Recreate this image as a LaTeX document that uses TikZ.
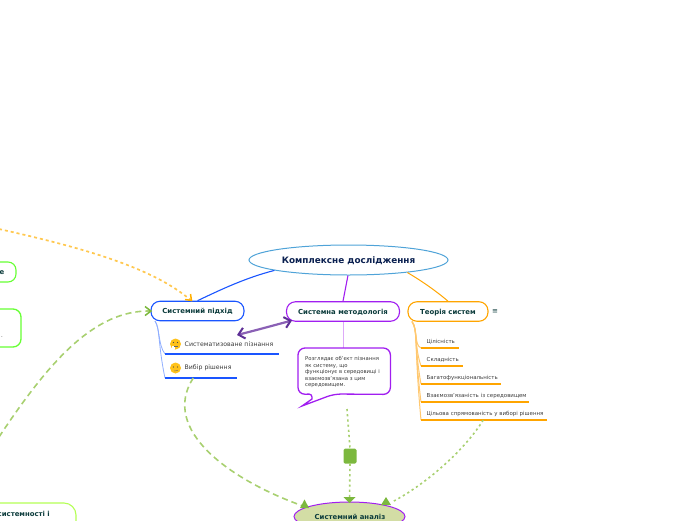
\documentclass[tikz,border=0pt]{standalone}
\usepackage{fontspec}
\setmainfont{DejaVu Sans}
\usetikzlibrary{arrows.meta,shapes.geometric}
\definecolor{txtdark}{HTML}{0B3B3B}
\definecolor{navy}{HTML}{0A2050}
\definecolor{greytxt}{HTML}{3A3A3A}
\definecolor{blueb}{HTML}{1A55FF}
\definecolor{bluel}{HTML}{8FAEFF}
\definecolor{purp}{HTML}{A11EF0}
\definecolor{purpl}{HTML}{DDAAF8}
\definecolor{orng}{HTML}{FFA500}
\definecolor{orngl}{HTML}{FFC870}
\definecolor{ellb}{HTML}{4FA3D8}
\definecolor{linegrn}{HTML}{A8D070}
\definecolor{tipgrn}{HTML}{7CB83E}
\definecolor{relp}{HTML}{8A60B5}
\definecolor{relpd}{HTML}{5E2F96}
\definecolor{limeb}{HTML}{66FF33}
\definecolor{limel}{HTML}{B4FF55}
\definecolor{anafill}{HTML}{D3DDA5}
\definecolor{orarrow}{HTML}{FFC850}
\definecolor{emo}{HTML}{FFC21A}
\tikzset{
  topicbox/.style={draw=#1,line width=1.1pt,rounded corners=9pt,fill=white,text=txtdark,
    font=\bfseries\fontsize{6.9}{8}\selectfont,inner sep=0pt,minimum height=19.5pt,text height=5pt,text depth=0pt},
  sideleaf/.style={anchor=south west,inner sep=0pt,align=left,text width=#1pt,minimum height=20pt,
    text=greytxt,font=\fontsize{6.2}{8}\selectfont},
  smallleaf/.style={anchor=south west,inner sep=0pt,align=left,text width=#1pt,minimum height=12pt,
    text=greytxt,font=\fontsize{5.45}{7}\selectfont},
  underblue/.style={color=blueb,line width=1.2pt},
  underorange/.style={color=orng,line width=1.2pt},
  branchblue/.style={color=bluel,line width=.8pt},
  branchorange/.style={color=orngl,line width=1pt},
  gdash/.style={color=linegrn,line width=1.6pt,dash pattern=on 6pt off 4pt},
  gdot/.style={color=linegrn,line width=1.6pt,dash pattern=on 2.2pt off 3pt},
  gtip/.style={fill=tipgrn,draw=none},
  emoji/.style={circle,fill=emo,draw=none,minimum size=11pt,inner sep=0pt}
}
\begin{document}
\begin{tikzpicture}[x=1pt,y=-1pt]
\useasboundingbox (0,0) rectangle (696,520);
\clip (0,0) rectangle (696,520);

% nodes
\node[ellipse,draw=ellb,line width=1pt,fill=white,minimum width=199pt,minimum height=30pt,inner sep=0pt,
  text=navy,text height=6pt,text depth=0pt,font=\bfseries\fontsize{8.85}{10}\selectfont] (root) at (348.5,260) {Комплексне дослідження};
\node[topicbox=blueb,minimum width=93pt] (sp) at (197.5,311) {Системний підхід};
\node[topicbox=purp,minimum width=113pt] (sm) at (343,311.5) {Системна методологія};
\node[topicbox=orng,minimum width=80pt] (ts) at (448,311.5) {Теорія систем};
\node[anchor=west,inner sep=0pt,text=txtdark,font=\fontsize{7}{8}\selectfont] (tsmark) at (492,311.5) {≡};

\node[ellipse,draw=purp,line width=1pt,fill=anafill,minimum width=111pt,minimum height=29pt,inner sep=0pt] (ana) at (349.5,516.5) {};
\node[text=txtdark,text height=5pt,text depth=0pt,font=\bfseries\fontsize{6.9}{8}\selectfont,inner sep=0pt] (analab) at (350,516.5) {Системний аналіз};

% off-canvas topics
\node[draw=limeb,line width=1.1pt,fill=white,rounded corners=8pt,minimum width=60pt,minimum height=20pt,inner sep=0pt] (la) at (-14,272) {};
\node[anchor=east,inner sep=0pt,text=txtdark,font=\bfseries\fontsize{6.9}{8}\selectfont] (lat) at (4.5,272.5) {е};
\node[draw=limeb,line width=1.3pt,fill=white,rounded corners=8pt,minimum width=60pt,minimum height=38pt,inner sep=0pt] (lb) at (-9,328) {};
\node[anchor=east,inner sep=0pt,text=greytxt,font=\fontsize{5.45}{7}\selectfont] (lbt) at (3,337) {.};
\node[draw=limel,line width=1.1pt,fill=white,rounded corners=12pt,minimum width=120pt,minimum height=40pt,inner sep=0pt] (lc) at (16,523) {};
\node[anchor=east,inner sep=0pt,text=txtdark,font=\bfseries\fontsize{6.9}{8}\selectfont] (lct) at (50,513.5) {системності і};

% blue leaves
\node[sideleaf=114] (la1) at (165,354) {\hspace*{19.5pt}Систематизоване пізнання};
\node[sideleaf=72] (la2) at (165,378) {\hspace*{19.5pt}Вибір рішення};
\node[emoji] (em1) at (175.5,344) {};
\node[emoji] (em2) at (175.5,368) {};
\fill[white] (172,346) rectangle (175,349);
\fill[black!70] (173.5,342.5) circle (.6pt) (177.5,342.5) circle (.6pt);
\draw[black!60,line width=.4pt] (174,346) -- (178,346);
\fill[black!70] (173.5,367) circle (.6pt) (177.5,367) circle (.6pt);
\draw[black!60,line width=.4pt] (174,371) -- (178,370.5);

% orange leaves
\node[smallleaf=38] (o1) at (421,348) {\hspace*{5.5pt}Цілісність};
\node[smallleaf=42] (o2) at (421,366) {\hspace*{5.5pt}Складність};
\node[smallleaf=80] (o3) at (421,384) {\hspace*{5.5pt}Багатофункціональність};
\node[smallleaf=108] (o4) at (421,402) {\hspace*{5.5pt}Взаємозв’язаність із середовищем};
\node[smallleaf=126] (o5) at (421,420) {\hspace*{5.5pt}Цільова спрямованість у виборі рішення};

% branches
\coordinate (spb) at (155,321);
\coordinate (tsb) at (412,321.5);
\foreach \n in {la1,la2}{
  \draw[branchblue] (spb) .. controls (160,328) and (158,345) .. (\n.south west);
  \draw[underblue] (\n.south west) -- (\n.south east);
}
\foreach \n in {o1,o2,o3,o4,o5}{
  \draw[branchorange] (tsb) .. controls (418,330) and (414,345) .. (\n.south west);
  \draw[underorange] (\n.south west) -- (\n.south east);
}

% root connectors
\draw[blueb,line width=1.1pt] (root.188.8) .. controls (245,278) and (220,290) .. (sp.north);
\draw[purp,line width=1.1pt] (root.-92) -- (sm.north);
\draw[orng,line width=1pt] (root.-12.5) .. controls (420,280) and (435,290) .. (ts.north);

% callout
\node[anchor=north west,inner sep=0pt,minimum width=92pt,minimum height=46pt] (note) at (298,348) {};
\draw[purpl,line width=1pt] (sm.south) -- (note.north -| sm.south);
\draw[purp,line width=1.3pt,fill=white,rounded corners=7pt]
  (note.north west) -- (note.north east) -- (note.south east) -- (334,394) [sharp corners] -- (302,406) -- (312,399) [rounded corners=3pt] -- (312,394) [rounded corners=7pt] -- (note.south west) -- cycle;
\node[anchor=north west,inner sep=0pt,align=left,text=greytxt,font=\fontsize{5.3}{6.5}\selectfont] (notetext) at (305,356.5)
  {Розглядає об’єкт пізнання\\як систему, що\\функціонує в середовищі і\\взаємозв’язана з цим\\середовищем.};

% relationships
\coordinate (relA) at (237,335);
\coordinate (relB) at (292,320.5);
\draw[relp,line width=2.2pt,{Straight Barb[color=relpd,length=6pt,width=11pt,line width=2pt]}-{Straight Barb[color=relpd,length=6pt,width=11pt,line width=2pt]}]
  (relA) .. controls (255,330.5) and (275,325) .. (relB);

\coordinate (or0) at (-1,229);
\coordinate (orE) at (190.5,300);
\draw[orarrow,line width=1.7pt,dash pattern=on 3pt off 3pt] (or0) .. controls (70,245) and (150,265) .. (orE);
\draw[orng!90!yellow,line width=1.5pt] (185,299.5) -- (191.5,300.5) -- (190.5,294);

\coordinate (gl0) at (-1,437);
\draw[gdash] (gl0) .. controls (50,360) and (95,310) .. (sp.west);
\draw[tipgrn,line width=1.5pt] (145,306.5) -- (151,311) -- (145,315.5);

\draw[gdash] (la2.south) ++(-8,0) .. controls (160,430) and (230,480) .. (303,506);
\fill[gtip] (300,508) -- (304.5,499.5) -- (309,508) -- cycle;

\coordinate (noteB) at (347,409);
\node[fill=tipgrn,rounded corners=1.5pt,minimum width=13pt,minimum height=15pt,inner sep=0pt] (gb) at (350,456) {};
\draw[gdot] (noteB) -- (gb.north);
\draw[gdot] (gb.south) -- (ana.north);
\fill[gtip] (343.5,497) -- (355.5,497) -- (349.5,503) -- cycle;

\draw[gdot] (o5.south) ++(-1,0) .. controls (465,450) and (425,485) .. (392,502);
\fill[gtip] (381,505) -- (386,497) -- (391,505) -- cycle;
\end{tikzpicture}
\end{document}
